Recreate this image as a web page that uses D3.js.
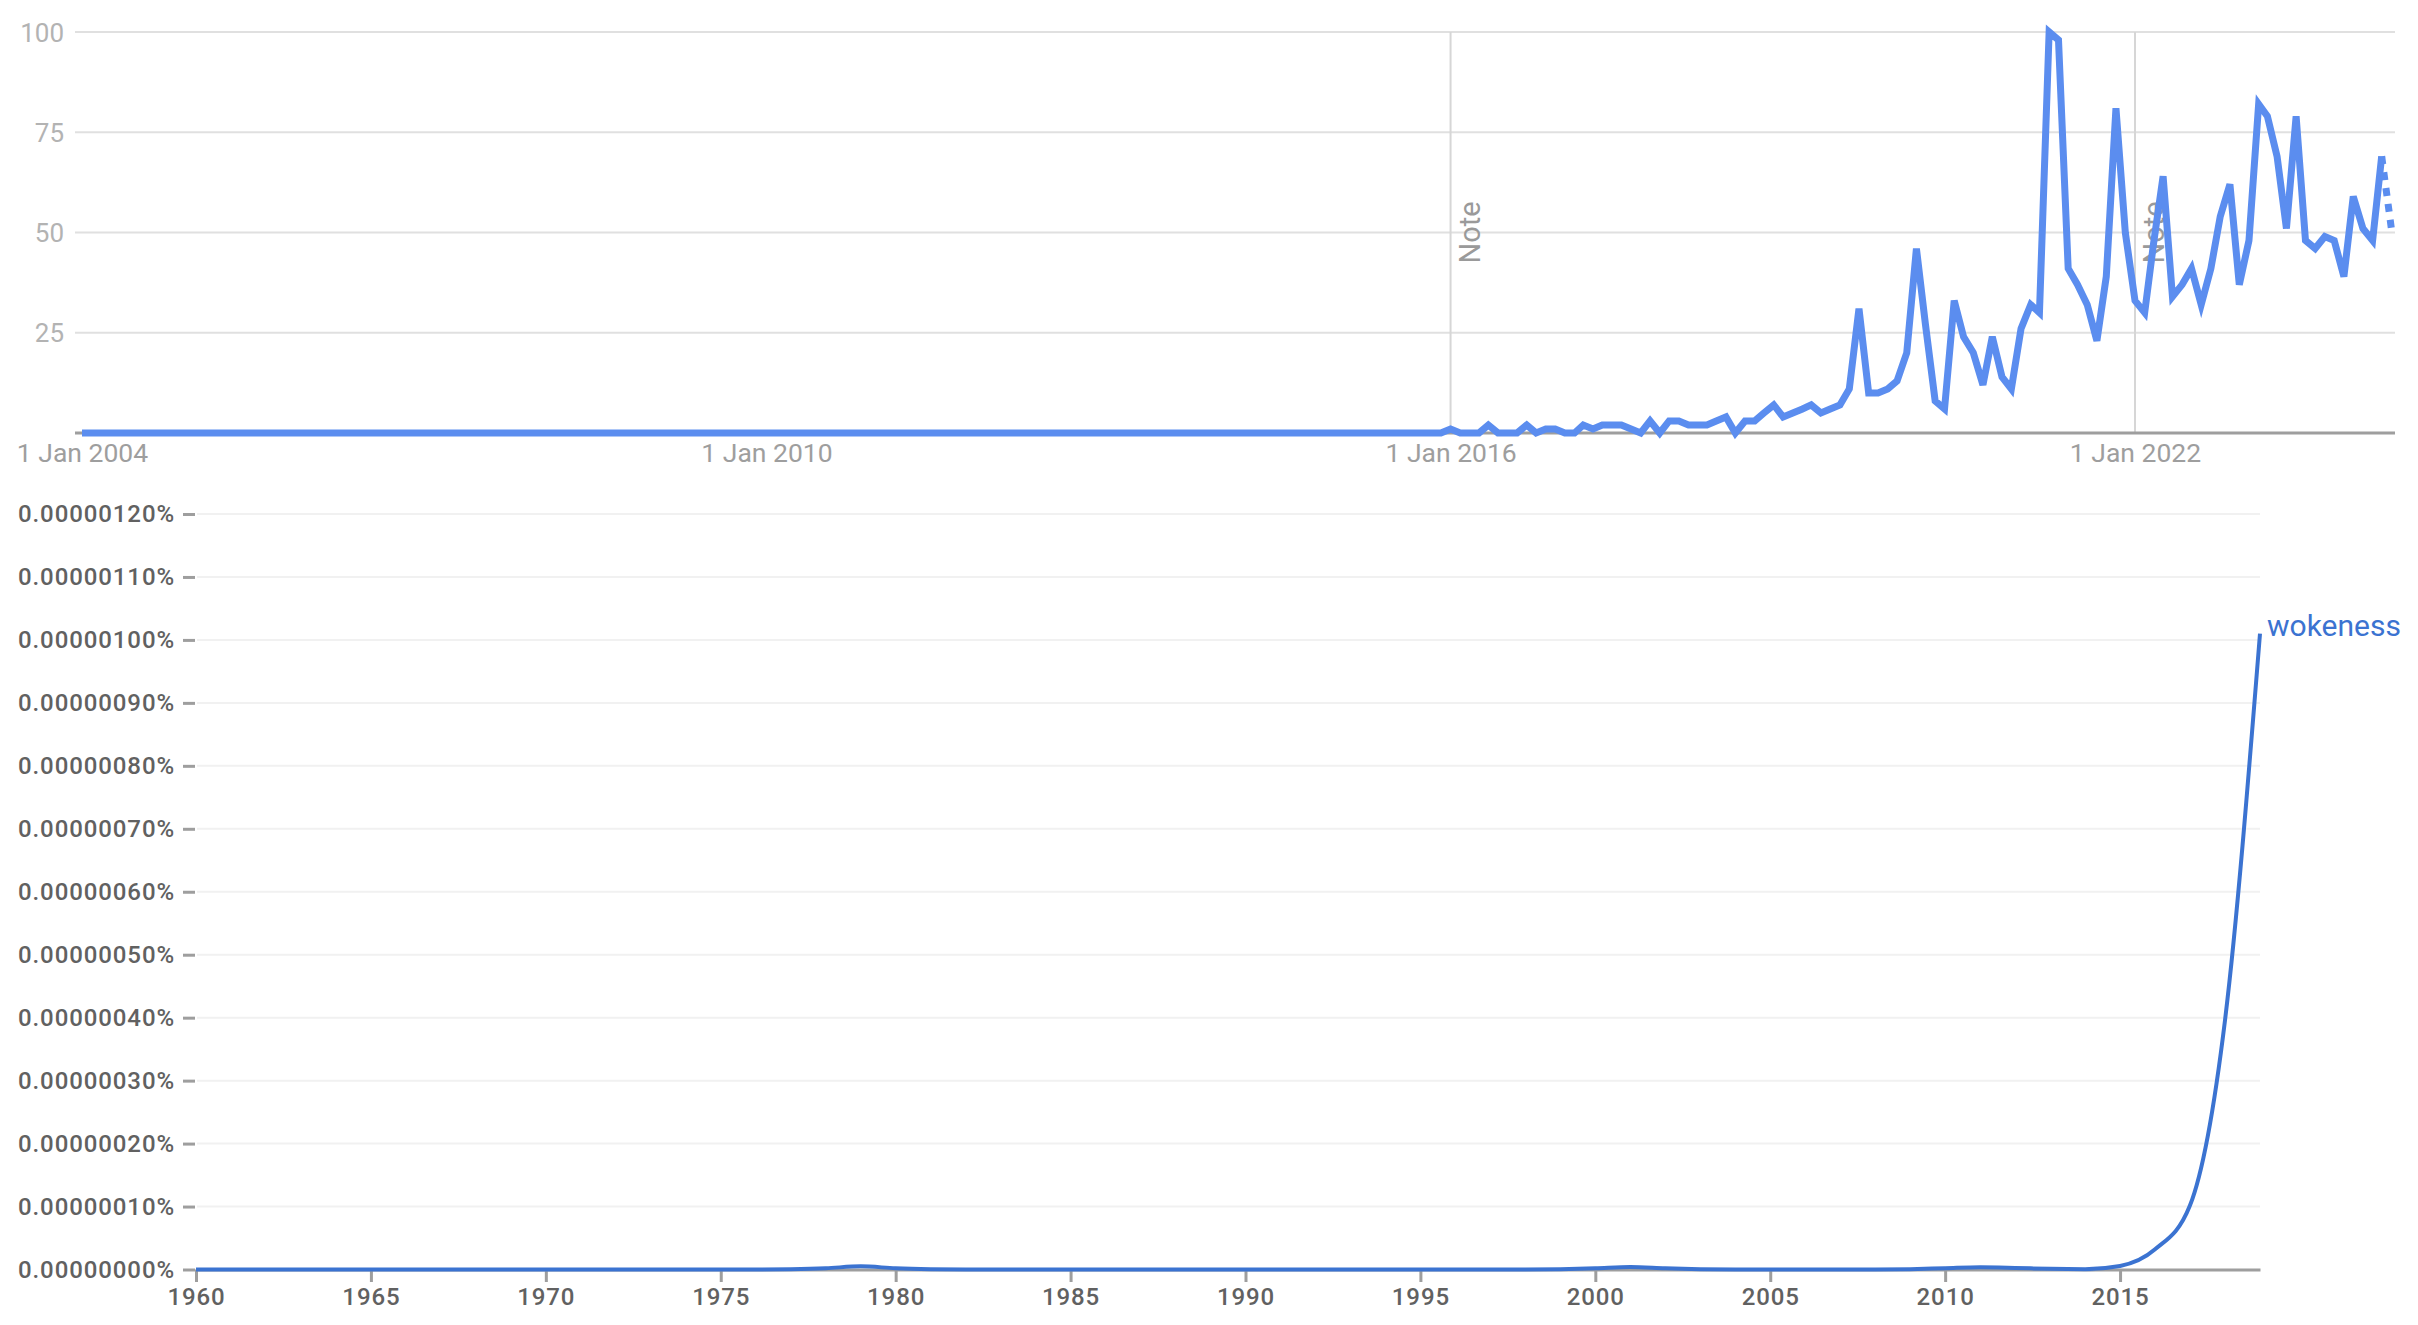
<!DOCTYPE html>
<html>
<head>
<meta charset="utf-8">
<script src="https://cdn.jsdelivr.net/npm/d3@7"></script>
<style>
  html, body { margin: 0; padding: 0; background: #ffffff; }
  svg { display: block; font-family: Roboto, "Noto Sans", Arial, sans-serif; }
</style>
</head>
<body>
<svg id="chart" width="2418" height="1325"></svg>
<script>
// ---------------- DATA: Google Trends (monthly, Jan 2004 - Apr 2024) ----------------
const trendStartYear = 2004;
const trendsMonthly = [
  /* 2004 */ 0,0,0,0,0,0,0,0,0,0,0,0,
  /* 2005 */ 0,0,0,0,0,0,0,0,0,0,0,0,
  /* 2006 */ 0,0,0,0,0,0,0,0,0,0,0,0,
  /* 2007 */ 0,0,0,0,0,0,0,0,0,0,0,0,
  /* 2008 */ 0,0,0,0,0,0,0,0,0,0,0,0,
  /* 2009 */ 0,0,0,0,0,0,0,0,0,0,0,0,
  /* 2010 */ 0,0,0,0,0,0,0,0,0,0,0,0,
  /* 2011 */ 0,0,0,0,0,0,0,0,0,0,0,0,
  /* 2012 */ 0,0,0,0,0,0,0,0,0,0,0,0,
  /* 2013 */ 0,0,0,0,0,0,0,0,0,0,0,0,
  /* 2014 */ 0,0,0,0,0,0,0,0,0,0,0,0,
  /* 2015 */ 0,0,0,0,0,0,0,0,0,0,0,0,
  /* 2016 */ 1,0,0,0,2,0,0,0,2,0,1,1,
  /* 2017 */ 0,0,2,1,2,2,2,1,0,3,0,3,
  /* 2018 */ 3,2,2,2,3,4,0,3,3,5,7,4,
  /* 2019 */ 5,6,7,5,6,7,11,31,10,10,11,13,
  /* 2020 */ 20,46,27,8,6,33,24,20,12,24,14,11,
  /* 2021 */ 26,32,30,100,98,41,37,32,23,39,81,50,
  /* 2022 */ 33,30,47,64,34,37,41,32,41,54,62,37,
  /* 2023 */ 48,82,79,69,51,79,48,46,49,48,39,59,
  /* 2024 */ 51,48,69,51
];
const trendPartialCount = 1;              // last month is partial (dotted)
const trendYTicks = [25, 50, 75, 100];
const trendXTickYears = [2004, 2010, 2016, 2022];
const trendXTickLabels = ["1 Jan 2004", "1 Jan 2010", "1 Jan 2016", "1 Jan 2022"];
const trendNoteYears = [2016, 2022];
const trendNoteLabel = "Note";

// ---------------- DATA: Google Books Ngram (yearly, 1960 - 2019) ----------------
const ngramYears = [
  1960,1961,1962,1963,1964,1965,1966,1967,1968,1969,
  1970,1971,1972,1973,1974,1975,1976,1977,1978,1979,
  1980,1981,1982,1983,1984,1985,1986,1987,1988,1989,
  1990,1991,1992,1993,1994,1995,1996,1997,1998,1999,
  2000,2001,2002,2003,2004,2005,2006,2007,2008,2009,
  2010,2011,2012,2013,2014,2015,2016,2017,2018,2019
];
const ngramValues = [  // percent
  0,0,0,0,0,0,0,0,0,0,
  0,0,0,0,0,0,0,5e-10,2e-9,5e-9,
  2e-9,5e-10,0,0,0,0,0,0,0,0,
  0,0,0,0,0,0,0,0,0,5e-10,
  2e-9,4e-9,2e-9,5e-10,0,0,0,0,0,5e-10,
  2e-9,3.5e-9,2.5e-9,1e-9,5e-10,5.6e-9,3.2e-8,1.02e-7,3.96e-7,1.01e-6
];
const ngramSeriesName = "wokeness";
const ngramYTickValues = [0,1e-7,2e-7,3e-7,4e-7,5e-7,6e-7,7e-7,8e-7,9e-7,1e-6,1.1e-6,1.2e-6];
const ngramYTickLabels = [
  "0.00000000%","0.00000010%","0.00000020%","0.00000030%","0.00000040%",
  "0.00000050%","0.00000060%","0.00000070%","0.00000080%","0.00000090%",
  "0.00000100%","0.00000110%","0.00000120%"
];
const ngramXTickYears = [1960,1965,1970,1975,1980,1985,1990,1995,2000,2005,2010,2015];

// ---------------- DRAW ----------------
const svg = d3.select("#chart");

// ===== Top chart =====
const topBox = { left: 75, right: 2395, y0: 433, y100: 32 };
const tX = d3.scaleTime()
  .domain([new Date(2004, 0, 1), new Date(2022, 0, 1)])
  .range([82, 2135]);
const tY = d3.scaleLinear().domain([0, 100]).range([topBox.y0, topBox.y100]);

const trendData = trendsMonthly.map((v, i) => ({ date: new Date(trendStartYear, i, 1), value: v }));

const gTop = svg.append("g");

// horizontal gridlines
gTop.selectAll("line.grid").data(trendYTicks).join("line")
  .attr("x1", topBox.left).attr("x2", topBox.right)
  .attr("y1", d => tY(d)).attr("y2", d => tY(d))
  .attr("stroke", "#e0e0e0").attr("stroke-width", 2);

// note vertical lines
gTop.selectAll("line.note").data(trendNoteYears).join("line")
  .attr("x1", d => tX(new Date(d, 0, 1))).attr("x2", d => tX(new Date(d, 0, 1)))
  .attr("y1", tY(100)).attr("y2", tY(0))
  .attr("stroke", "#d6d6d6").attr("stroke-width", 2);

// baseline
gTop.append("line")
  .attr("x1", topBox.left).attr("x2", topBox.right)
  .attr("y1", tY(0)).attr("y2", tY(0))
  .attr("stroke", "#9e9e9e").attr("stroke-width", 3);

// y axis labels
const tYAxis = d3.axisLeft(tY).tickValues(trendYTicks).tickSize(0).tickPadding(0);
const gTY = gTop.append("g").attr("transform", "translate(64,0)").call(tYAxis);
gTY.select(".domain").remove();
gTY.selectAll("text")
  .attr("font-family", "Roboto, Arial, sans-serif")
  .attr("font-size", 26).attr("fill", "#b3b3b3").attr("dy", "0.35em");

// x axis labels
const tXAxis = d3.axisBottom(tX)
  .tickValues(trendXTickYears.map(y => new Date(y, 0, 1)))
  .tickFormat((d, i) => trendXTickLabels[i])
  .tickSize(0).tickPadding(0);
const gTX = gTop.append("g").attr("transform", `translate(0,${tY(0)})`).call(tXAxis);
gTX.select(".domain").remove();
gTX.selectAll("text")
  .attr("font-family", "Roboto, Arial, sans-serif")
  .attr("font-size", 26.5).attr("fill", "#9e9e9e")
  .attr("y", 29).attr("dy", null);

// note labels
gTop.selectAll("text.note").data(trendNoteYears).join("text")
  .attr("transform", d => `translate(${tX(new Date(d, 0, 1)) + 19},${tY(50)}) rotate(-90)`)
  .attr("text-anchor", "middle").attr("dominant-baseline", "central")
  .attr("font-family", "Roboto, Arial, sans-serif")
  .attr("font-size", 29).attr("fill", "#9a9a9a")
  .text(trendNoteLabel);

// trend line
const tLine = d3.line().x(d => tX(d.date)).y(d => tY(d.value));
const solidData = trendData.slice(0, trendData.length - trendPartialCount);
const partialData = trendData.slice(trendData.length - trendPartialCount - 1);
gTop.append("path").datum(solidData)
  .attr("d", tLine).attr("fill", "none")
  .attr("stroke", "#5b8def").attr("stroke-width", 7);
gTop.append("path").datum(partialData)
  .attr("d", tLine).attr("fill", "none")
  .attr("stroke", "#5b8def").attr("stroke-width", 7)
  .attr("stroke-dasharray", "8,8");

// ===== Bottom chart (Ngram) =====
const nX = d3.scaleLinear().domain([1960, 2019]).range([196, 2260]);
const nY = d3.scaleLinear().domain([0, 1.2e-6]).range([1269.5, 514]);

const gBot = svg.append("g");

// gridlines
gBot.selectAll("line.grid").data(ngramYTickValues.slice(1)).join("line")
  .attr("x1", 197).attr("x2", nX(2019))
  .attr("y1", d => nY(d)).attr("y2", d => nY(d))
  .attr("stroke", "#f1f1f1").attr("stroke-width", 2);

// y axis
const nYAxis = d3.axisLeft(nY).tickValues(ngramYTickValues)
  .tickFormat((d, i) => ngramYTickLabels[i]).tickSize(12).tickPadding(8);
const gNY = gBot.append("g").attr("transform", "translate(195,0)").call(nYAxis);
gNY.select(".domain").remove();
gNY.selectAll(".tick line").attr("stroke", "#9e9e9e").attr("stroke-width", 3);
gNY.selectAll("text")
  .attr("font-family", "Roboto, Arial, sans-serif")
  .attr("font-size", 24).attr("font-weight", 500)
  .attr("letter-spacing", "0.9px")
  .attr("fill", "#616161");

// x axis
const nXAxis = d3.axisBottom(nX).tickValues(ngramXTickYears)
  .tickFormat(d3.format("d")).tickSize(12.5).tickSizeOuter(0).tickPadding(6);
const gNX = gBot.append("g").attr("transform", `translate(0,${nY(0)})`).call(nXAxis);
gNX.select(".domain").attr("stroke", "#9e9e9e").attr("stroke-width", 3);
gNX.selectAll(".tick line").attr("stroke", "#9e9e9e").attr("stroke-width", 3);
gNX.selectAll("text")
  .attr("font-family", "Roboto, Arial, sans-serif")
  .attr("font-size", 24).attr("font-weight", 500)
  .attr("letter-spacing", "0.9px")
  .attr("fill", "#616161");

// ngram line
const ngramData = ngramYears.map((y, i) => ({ year: y, value: ngramValues[i] }));
const nLine = d3.line().x(d => nX(d.year)).y(d => nY(d.value)).curve(d3.curveMonotoneX);
gBot.append("path").datum(ngramData)
  .attr("d", nLine).attr("fill", "none")
  .attr("stroke", "#3b73d1").attr("stroke-width", 4);

// series label
const last = ngramData[ngramData.length - 1];
gBot.append("text")
  .attr("x", nX(last.year) + 7).attr("y", nY(last.value) + 2)
  .attr("font-family", "Roboto, Arial, sans-serif")
  .attr("font-size", 30).attr("fill", "#3b73d1")
  .text(ngramSeriesName);
</script>
</body>
</html>
